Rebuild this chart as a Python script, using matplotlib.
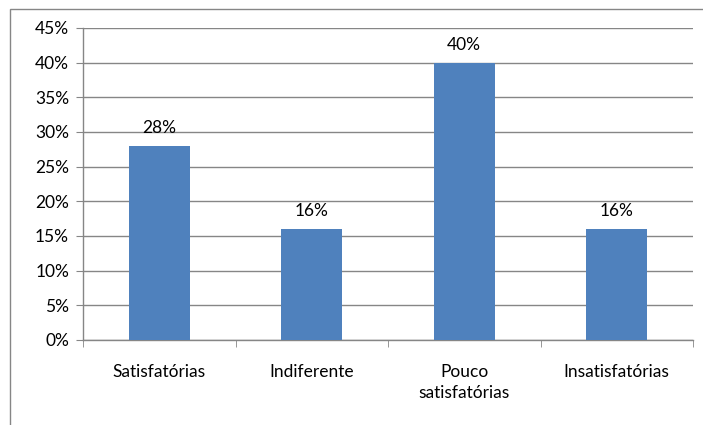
import matplotlib
matplotlib.use("Agg")
import matplotlib.pyplot as plt
from matplotlib.patches import Rectangle
import numpy as np

categories = ["Satisfatórias", "Indiferente", "Pouco\nsatisfatórias", "Insatisfatórias"]
values = [28, 16, 40, 16]
yticks = [0, 5, 10, 15, 20, 25, 30, 35, 40, 45]

plt.rcParams['font.family'] = ['Lato', 'DejaVu Sans']
fig = plt.figure(figsize=(7.03, 4.25), dpi=100)
fig.patch.set_facecolor('white')

# chart frame (cropped at right and bottom)
fig.patches.append(Rectangle((10/703, -0.1), 1.2, 1 - 9/425 + 0.1, transform=fig.transFigure,
                             fill=False, edgecolor='#868686', linewidth=1.0))

ax = fig.add_axes([83/703, 1 - 340/425, 610/703, 312/425])
x = np.arange(len(categories))
bars = ax.bar(x, values, width=0.4, color='#4F81BD', zorder=3)
for xi, v in zip(x, values):
    ax.annotate(f"{v}%", (xi, v), xytext=(0, 7), textcoords='offset points',
                ha='center', va='bottom', fontsize=12.5, color='black')

ax.set_xlim(-0.5, len(categories) - 0.5)
ax.set_ylim(0, 45)
ax.set_yticks(yticks)
ax.set_yticklabels([f"{t}%" for t in yticks], fontsize=12.5)
ax.yaxis.grid(True, color='#868686', linewidth=1.0, zorder=0)
ax.set_xticks(x)
ax.set_xticklabels(categories, fontsize=12.5, linespacing=1.4)
ax.set_xticks(np.arange(len(categories) + 1) - 0.5, minor=True)
ax.tick_params(axis='x', which='major', length=0, pad=17)
ax.tick_params(axis='x', which='minor', length=5, color='#868686', direction='out')
ax.tick_params(axis='y', length=5, color='#868686', direction='out', pad=5)
for s in ['top', 'right']:
    ax.spines[s].set_visible(False)
for s in ['left', 'bottom']:
    ax.spines[s].set_color('#868686')
    ax.spines[s].set_linewidth(1.0)

fig.savefig("out.png", dpi=100)
